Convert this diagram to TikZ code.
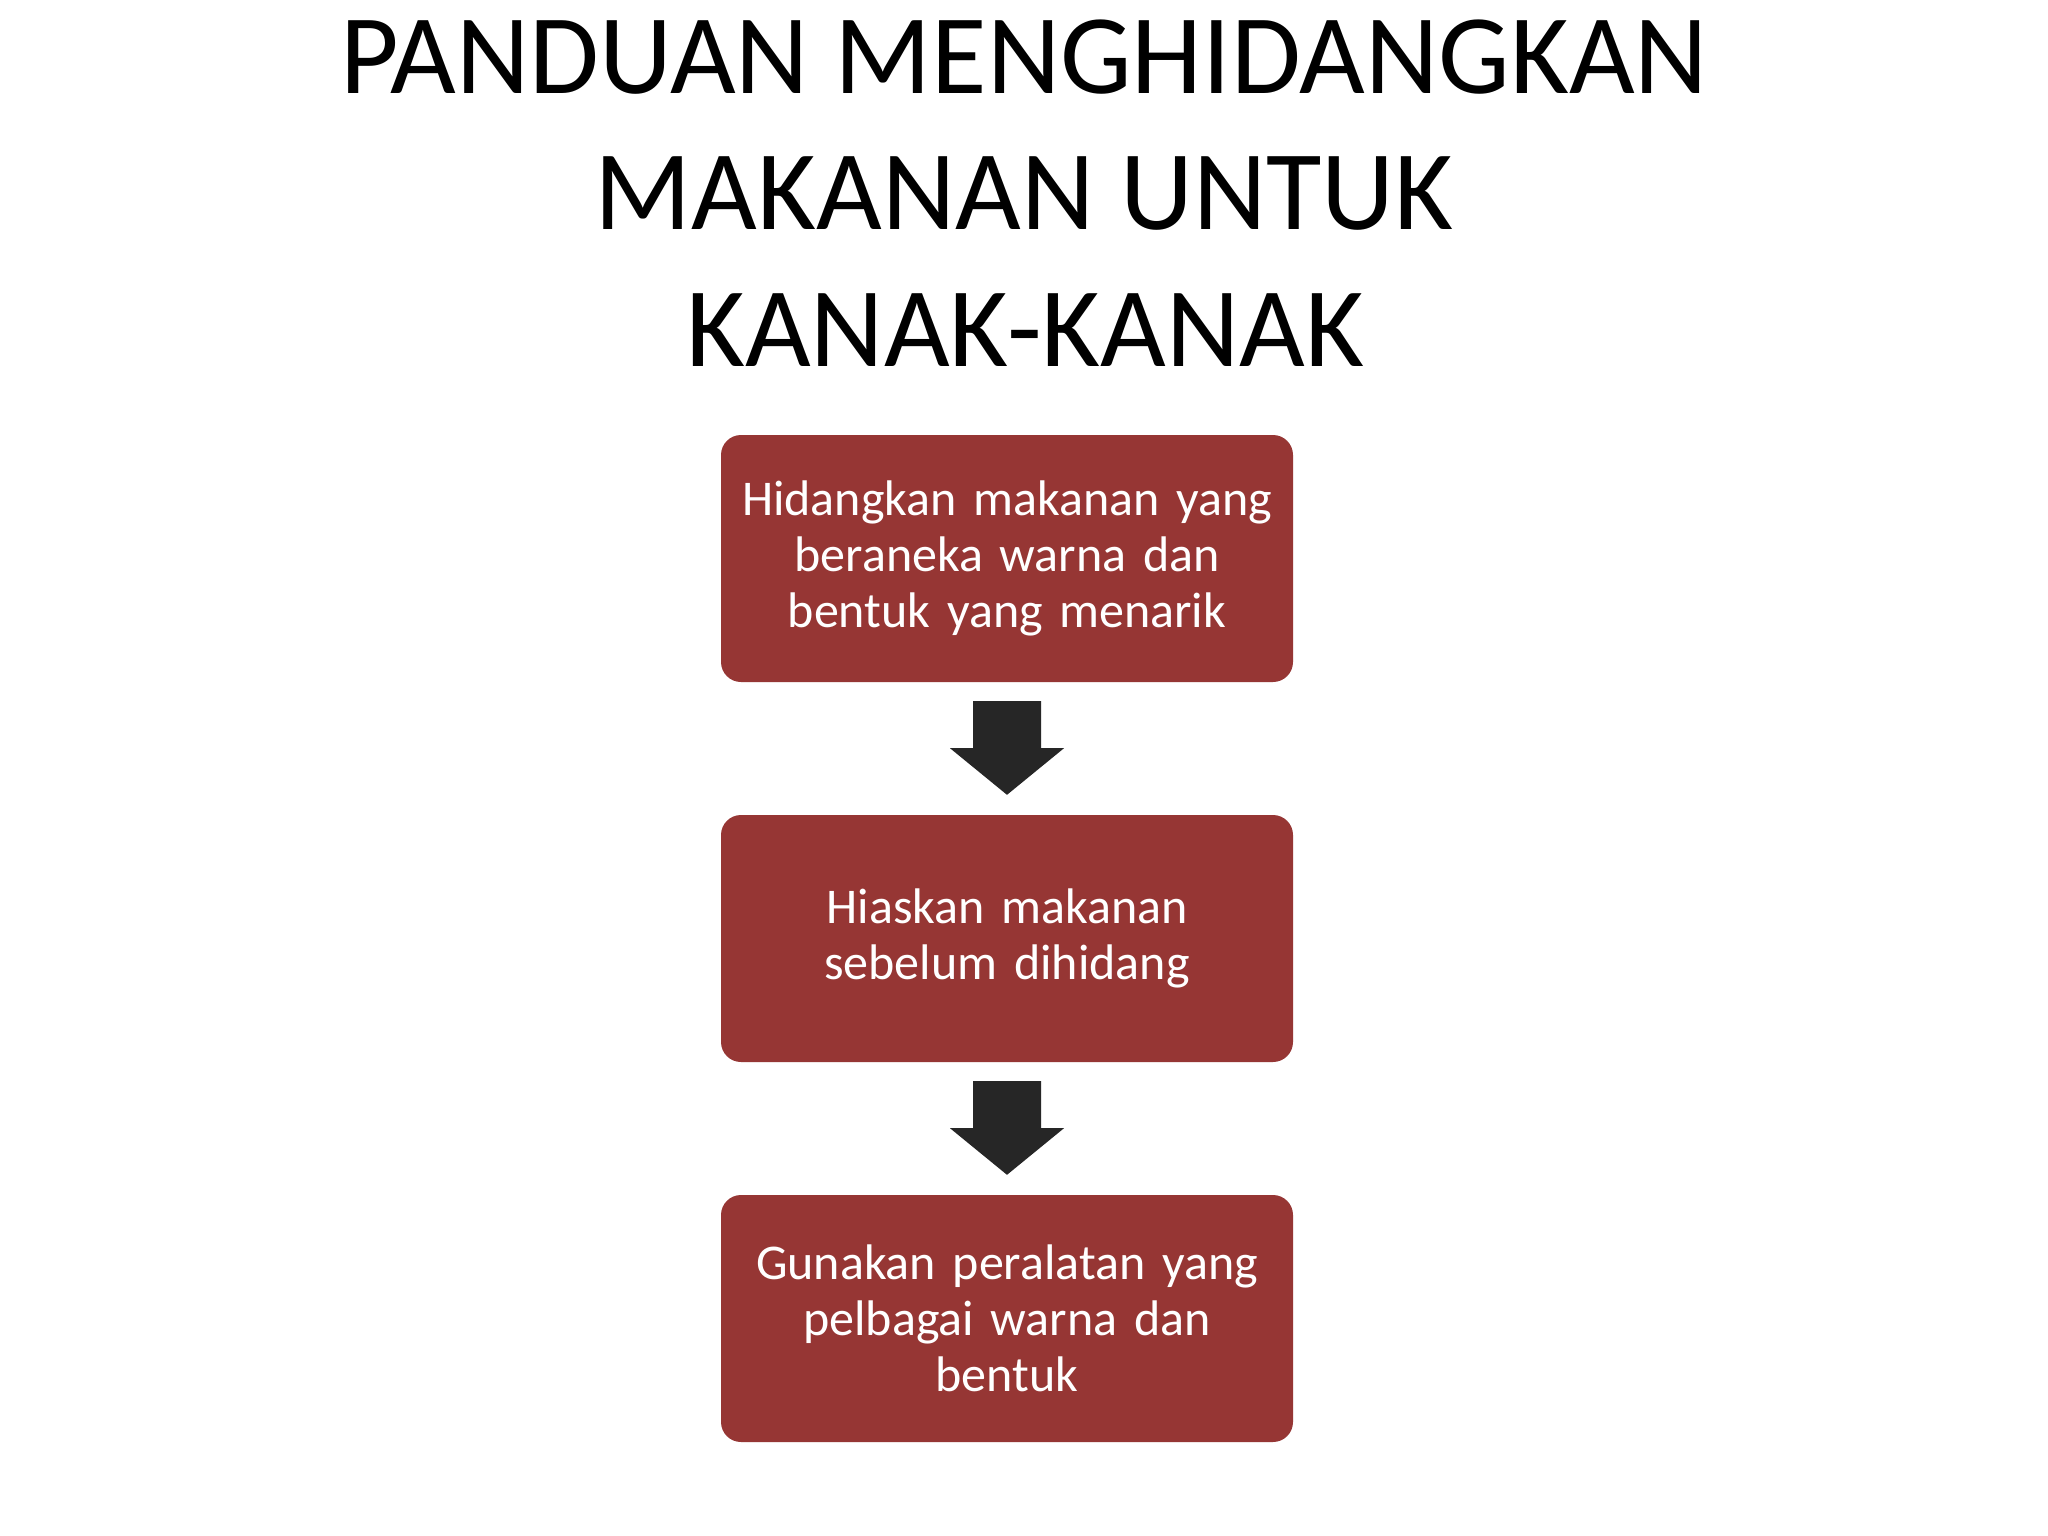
\documentclass[tikz,border=0pt]{standalone}
\usepackage{fontspec}
\setmainfont{Carlito}
\usetikzlibrary{calc}
\definecolor{boxred}{RGB}{150,54,52}
\definecolor{arrowgray}{RGB}{38,38,38}
\tikzset{
  titletext/.style={anchor=base, inner sep=0pt, font=\fontsize{113.5}{134}\selectfont, text=black},
  stepbox/.style={rectangle, rounded corners=20pt, fill=boxred, draw=none,
    minimum width=572pt, minimum height=247pt, text width=560pt, align=center,
    text=white, font=\fontsize{50}{56}\selectfont, inner sep=0pt},
  blockarrow/.style={fill=arrowgray, draw=none}
}
\begin{document}
\begin{tikzpicture}[x=1pt,y=-1pt]
\useasboundingbox[fill=white] (0,0) rectangle (2048,1536);
\node[titletext] (t1) at (1024,94) {PANDUAN MENGHIDANGKAN};
\node[titletext] (t2) at (1024,229) {MAKANAN UNTUK};
\node[titletext] (t3) at (1025,366) {KANAK-KANAK};
\node[stepbox] (b1) at (1007,558.5) {Hidangkan makanan yang\\beraneka warna dan\\bentuk yang menarik};
\node[stepbox] (b2) at (1007,938.5) {Hiaskan makanan\\sebelum dihidang};
\node[stepbox] (b3) at (1007,1318.5) {Gunakan peralatan yang\\pelbagai warna dan\\bentuk};
\fill[blockarrow] ($(b1.south)+(-34,19)$) -- ++(68,0) -- ++(0,47) -- ++(23,0) -- ($(b2.north)+(0,-20)$) -- ($(b1.south)+(-57,66)$) -- ++(23,0) -- cycle;
\fill[blockarrow] ($(b2.south)+(-34,19)$) -- ++(68,0) -- ++(0,47) -- ++(23,0) -- ($(b3.north)+(0,-20)$) -- ($(b2.south)+(-57,66)$) -- ++(23,0) -- cycle;
\end{tikzpicture}
\end{document}
